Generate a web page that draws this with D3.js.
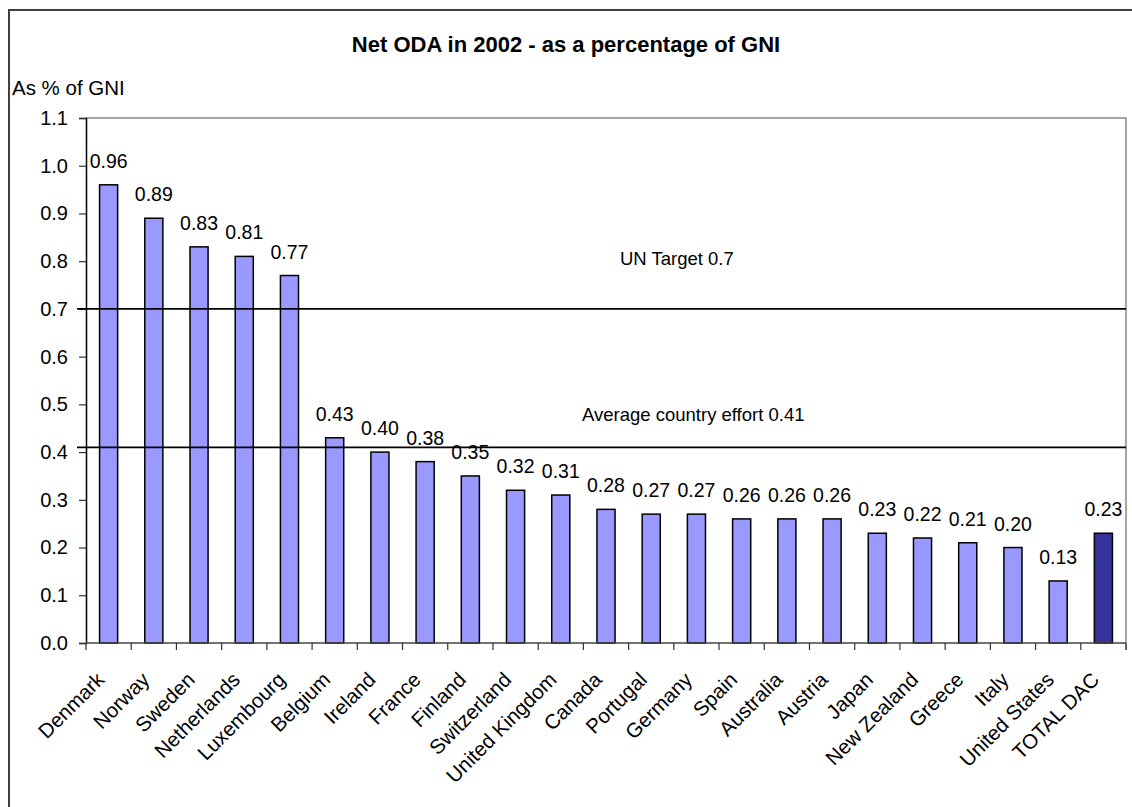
<!DOCTYPE html>
<html>
<head>
<meta charset="utf-8">
<script src="https://cdn.jsdelivr.net/npm/d3@7"></script>
<style>
  html, body { margin: 0; padding: 0; background: #fff; }
  svg { display: block; font-family: "Liberation Sans", Arial, sans-serif; }
</style>
</head>
<body>
<svg id="chart" width="1132" height="807"></svg>
<script>
// Net ODA 2002 as a share of GNI, by DAC member
const countries = ["Denmark", "Norway", "Sweden", "Netherlands", "Luxembourg", "Belgium",
  "Ireland", "France", "Finland", "Switzerland", "United Kingdom", "Canada", "Portugal",
  "Germany", "Spain", "Australia", "Austria", "Japan", "New Zealand", "Greece", "Italy",
  "United States", "TOTAL DAC"];
const odaShare = [0.96, 0.89, 0.83, 0.81, 0.77, 0.43, 0.40, 0.38, 0.35, 0.32, 0.31, 0.28,
  0.27, 0.27, 0.26, 0.26, 0.26, 0.23, 0.22, 0.21, 0.20, 0.13, 0.23];
const yTicks = [0.0, 0.1, 0.2, 0.3, 0.4, 0.5, 0.6, 0.7, 0.8, 0.9, 1.0, 1.1];
const refValues = [0.7, 0.41];
const refLabels = ["UN Target 0.7", "Average country effort 0.41"];

const svg = d3.select("#chart");
const plot = { left: 86, right: 1126, top: 118, bottom: 643 };

const x = d3.scaleBand()
  .domain(countries)
  .range([plot.left, plot.right])
  .paddingInner(0.6)
  .paddingOuter(0.3);
const y = d3.scaleLinear().domain([0, 1.1]).range([plot.bottom, plot.top]);

// outer chart frame
svg.append("rect")
  .attr("x", 9).attr("y", 10)
  .attr("width", 1200).attr("height", 900)
  .attr("fill", "none").attr("stroke", "#404040").attr("stroke-width", 2);

// title
svg.append("text")
  .attr("x", 566).attr("y", 52)
  .attr("text-anchor", "middle")
  .attr("font-size", 22).attr("font-weight", "bold")
  .text("Net ODA in 2002 - as a percentage of GNI");

// y axis caption
svg.append("text")
  .attr("x", 12).attr("y", 95)
  .attr("font-size", 20.5)
  .text("As % of GNI");

// plot area border (top and right)
svg.append("path")
  .attr("d", `M${plot.left},${plot.top}H${plot.right}V${plot.bottom + 7}`)
  .attr("fill", "none").attr("stroke", "#888").attr("stroke-width", 1.5);

// bars
svg.append("g").selectAll("rect")
  .data(countries)
  .join("rect")
  .attr("x", d => x(d))
  .attr("width", x.bandwidth())
  .attr("y", (d, i) => y(odaShare[i]))
  .attr("height", (d, i) => y(0) - y(odaShare[i]))
  .attr("fill", d => d === "TOTAL DAC" ? "#333399" : "#9999FF")
  .attr("stroke", "#000").attr("stroke-width", 1.5);

// value labels
svg.append("g").selectAll("text")
  .data(countries)
  .join("text")
  .attr("x", d => x(d) + x.bandwidth() / 2)
  .attr("y", (d, i) => y(odaShare[i]) - 17)
  .attr("text-anchor", "middle")
  .attr("font-size", 19.5)
  .text((d, i) => odaShare[i].toFixed(2));

// y axis
const yAxis = d3.axisLeft(y)
  .tickValues(yTicks)
  .tickFormat(d3.format(".1f"))
  .tickSize(7)
  .tickPadding(11);
const yg = svg.append("g")
  .attr("transform", `translate(${plot.left},0)`)
  .call(yAxis);
yg.select(".domain").attr("stroke", "#000").attr("stroke-width", 1.5);
yg.selectAll(".tick line").attr("stroke", "#333").attr("stroke-width", 1.2);
yg.selectAll(".tick text")
  .attr("font-size", 20).attr("font-family", "Liberation Sans, Arial, sans-serif")
  .attr("fill", "#000");

// x axis: ticks at category boundaries
const step = x.step();
const bounds = d3.range(countries.length + 1).map(i => plot.left + i * step);
svg.append("line")
  .attr("x1", plot.left).attr("x2", plot.right)
  .attr("y1", plot.bottom).attr("y2", plot.bottom)
  .attr("stroke", "#444").attr("stroke-width", 1.5);
svg.append("g").selectAll("line")
  .data(bounds)
  .join("line")
  .attr("x1", d => d).attr("x2", d => d)
  .attr("y1", plot.bottom).attr("y2", plot.bottom + 7)
  .attr("stroke", "#333").attr("stroke-width", 1.2);

// rotated category labels
svg.append("g").selectAll("text")
  .data(countries)
  .join("text")
  .attr("transform", d => `translate(${x(d) + x.bandwidth() / 2 - 3},${plot.bottom + 38}) rotate(-45)`)
  .attr("text-anchor", "end")
  .attr("font-size", 20.5)
  .text(d => d);

// reference lines
svg.append("g").selectAll("line")
  .data(refValues)
  .join("line")
  .attr("x1", 77).attr("x2", plot.right)
  .attr("y1", d => y(d)).attr("y2", d => y(d))
  .attr("stroke", "#000").attr("stroke-width", 1.8);

svg.append("text")
  .attr("x", 620).attr("y", 265)
  .attr("font-size", 18.5)
  .text(refLabels[0]);
svg.append("text")
  .attr("x", 582).attr("y", 421)
  .attr("font-size", 18.5)
  .text(refLabels[1]);
</script>
</body>
</html>
